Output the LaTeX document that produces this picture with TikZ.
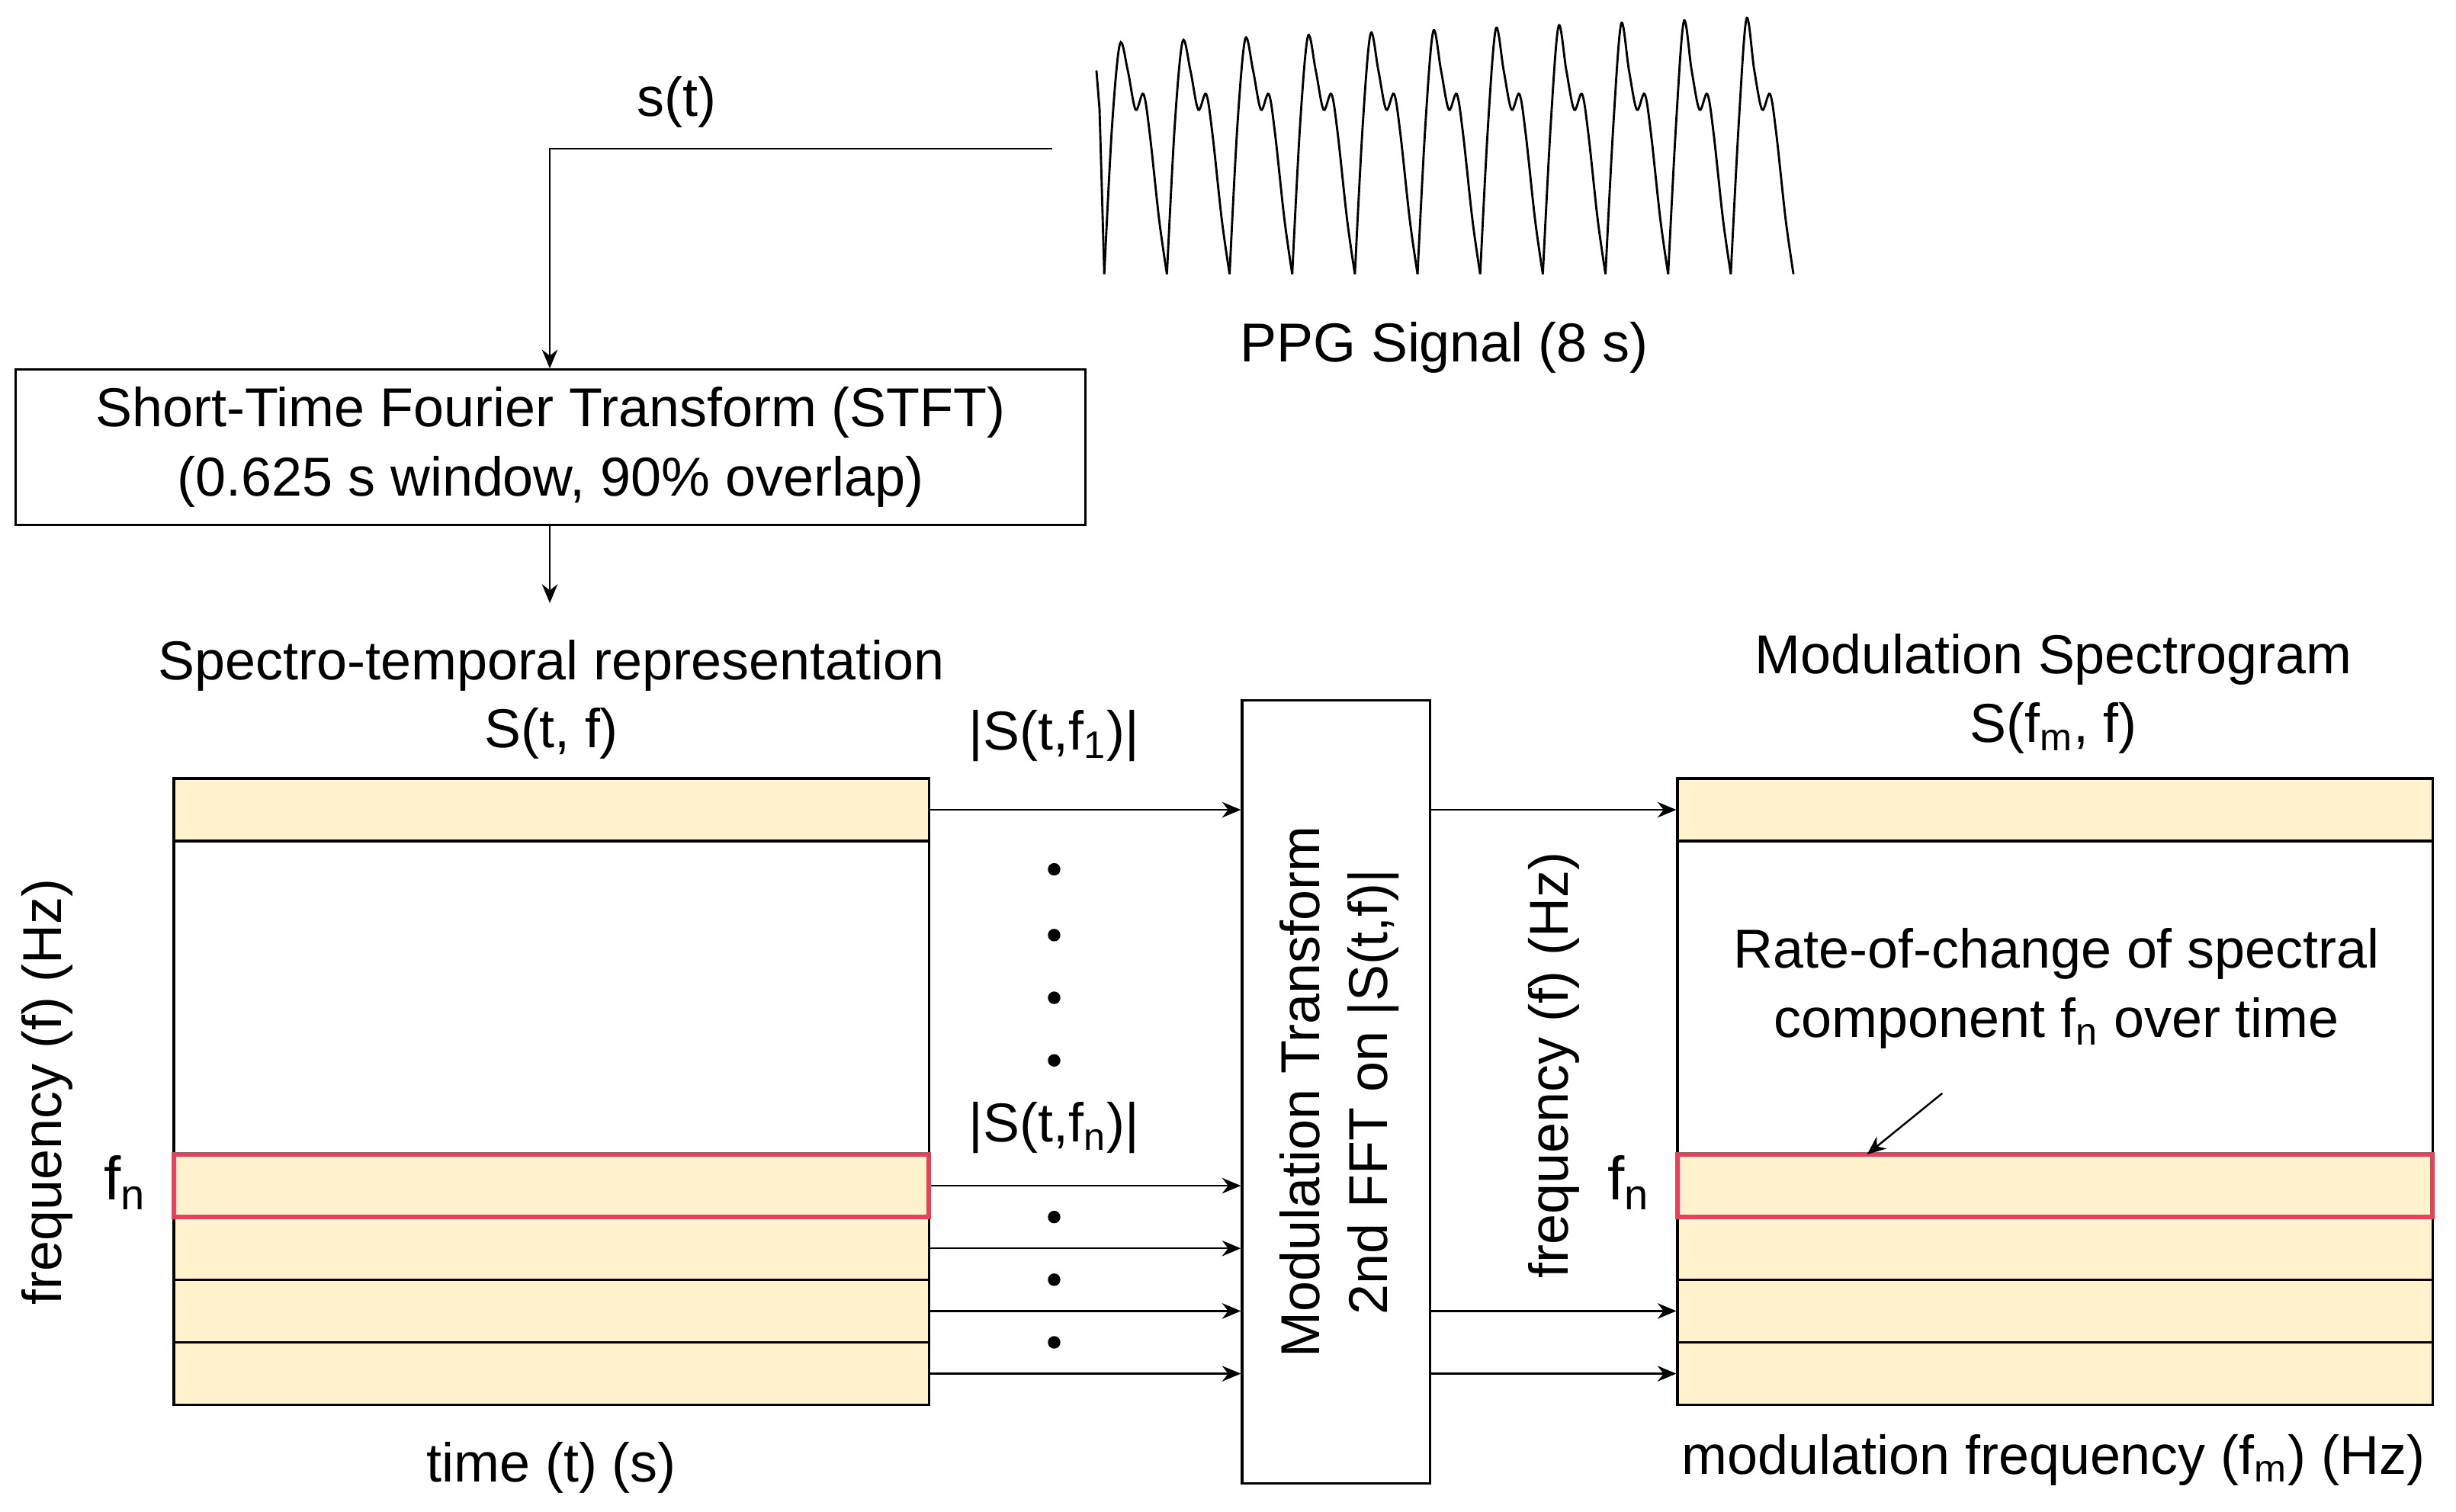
\documentclass[tikz,border=0pt]{standalone}
\usepackage{fontspec}
\setmainfont{Liberation Sans}
\usetikzlibrary{arrows.meta}
\definecolor{band}{HTML}{FFF2CC}
\definecolor{hl}{HTML}{E8405A}
\begin{document}
\begin{tikzpicture}[x=0.5pt,y=-0.5pt,
  lbl/.style={font=\fontsize{17.5}{19}\selectfont,inner sep=0pt},
  big/.style={font=\fontsize{19.5}{21}\selectfont,inner sep=0pt},
  arr/.style={-{Stealth[length=6pt,width=5pt]},line width=0.6pt},
  box/.style={draw,line width=0.8pt},
  strip/.style={draw,line width=0.8pt,fill=band},
  hstrip/.style={draw=hl,line width=1.4pt,fill=band}]
\useasboundingbox (0,0) rectangle (1568,965);
% PPG signal
\foreach \i in {0,...,10}{
  \pgfmathsetmacro{\x}{705+40*\i}
  \pgfmathsetmacro{\p}{28-1.6*\i}
  \draw[line width=0.7pt] plot[smooth,tension=0.55] coordinates {(\x,175) ({\x+5},80) ({\x+10},{\p}) ({\x+15},45) ({\x+20},70) ({\x+25},60) ({\x+29},85) ({\x+35},140) (\x+40,175)};
}
\draw[line width=0.7pt] (700,45) -- (702,70) -- (705,175);
\node[lbl] (ppg) at (922,222) {PPG Signal (8 s)};
\coordinate (sig) at (672,95);
\coordinate (bend) at (351,95);
\node[lbl] (st) at (432,65) {s(t)};
% STFT
\node[box,minimum width=341.5pt,minimum height=49.5pt,align=center,lbl] (stft) at (351.5,285.5)
  {Short-Time Fourier Transform (STFT)\\[3pt](0.625 s window, 90\% overlap)};
\draw[arr] (sig) -- (bend) -- (stft.north -| bend);
\coordinate (down) at (351,385);
\draw[arr] (stft.south -| down) -- (down);
\node[lbl] (t1) at (352,425) {Spectro-temporal representation};
\node[lbl] (t2) at (352,468) {S(t, f)};
% left spectrogram
\draw[box] (111,497) rectangle (593,897);
\foreach \n/\a in {L1/497,L3/777,L4/817,L5/857}{
  \node[strip,minimum width=241pt,minimum height=20pt,inner sep=0pt] (\n) at (352,\a+20) {};}
\node[hstrip,minimum width=241pt,minimum height=20pt,inner sep=0pt] (L2) at (352,757) {};
\node[lbl,rotate=90] (lf) at (30,697) {frequency (f) (Hz)};
\node[big] (lfn) at (80,755) {f$_\mathrm{n}$};
\node[lbl] (lt) at (352,937) {time (t) (s)};
% middle
\node[box,minimum width=60pt,minimum height=250pt] (mt) at (853,697) {};
\node[lbl,rotate=90] (mt1) at (830,697) {Modulation Transform};
\node[lbl,rotate=90] (mt2) at (877,697) {2nd FFT on |S(t,f)|};
\node[lbl] (s1) at (673,470) {|S(t,f$_\mathrm{1}$)|};
\node[lbl] (sn) at (673,720) {|S(t,f$_\mathrm{n}$)|};
\foreach \y in {555,597,637,677,777,817,857}{\fill (673,\y) circle (4);}
\draw[arr] (L1.east) -- (L1.east -| mt.west) ;
\foreach \n in {L2,L3,L4,L5}{\draw[arr] (\n.east) -- (\n.east -| mt.west);}
% right spectrogram
\draw[box] (1071,497) rectangle (1553,897);
\foreach \n/\a in {R1/497,R3/777,R4/817,R5/857}{
  \node[strip,minimum width=241pt,minimum height=20pt,inner sep=0pt] (\n) at (1312,\a+20) {};}
\node[hstrip,minimum width=241pt,minimum height=20pt,inner sep=0pt] (R2) at (1312,757) {};
\draw[arr] (mt.east |- R1) -- (R1.west);
\draw[arr] (mt.east |- R4) -- (R4.west);
\draw[arr] (mt.east |- R5) -- (R5.west);
\node[lbl] (r1) at (1311,421) {Modulation Spectrogram};
\node[lbl] (r2) at (1311,465) {S(f$_\mathrm{m}$, f)};
\node[lbl,rotate=90] (rf) at (992,680) {frequency (f) (Hz)};
\node[big] (rfn) at (1040,755) {f$_\mathrm{n}$};
\node[lbl,align=center] (rc) at (1313,631) {Rate-of-change of spectral\\[3pt]component f$_\mathrm{n}$ over time};
\coordinate (ra) at (1240,698);
\draw[arr] (ra) -- (1192,737);
\node[lbl] (rm) at (1311,932) {modulation frequency (f$_\mathrm{m}$) (Hz)};
\end{tikzpicture}
\end{document}
